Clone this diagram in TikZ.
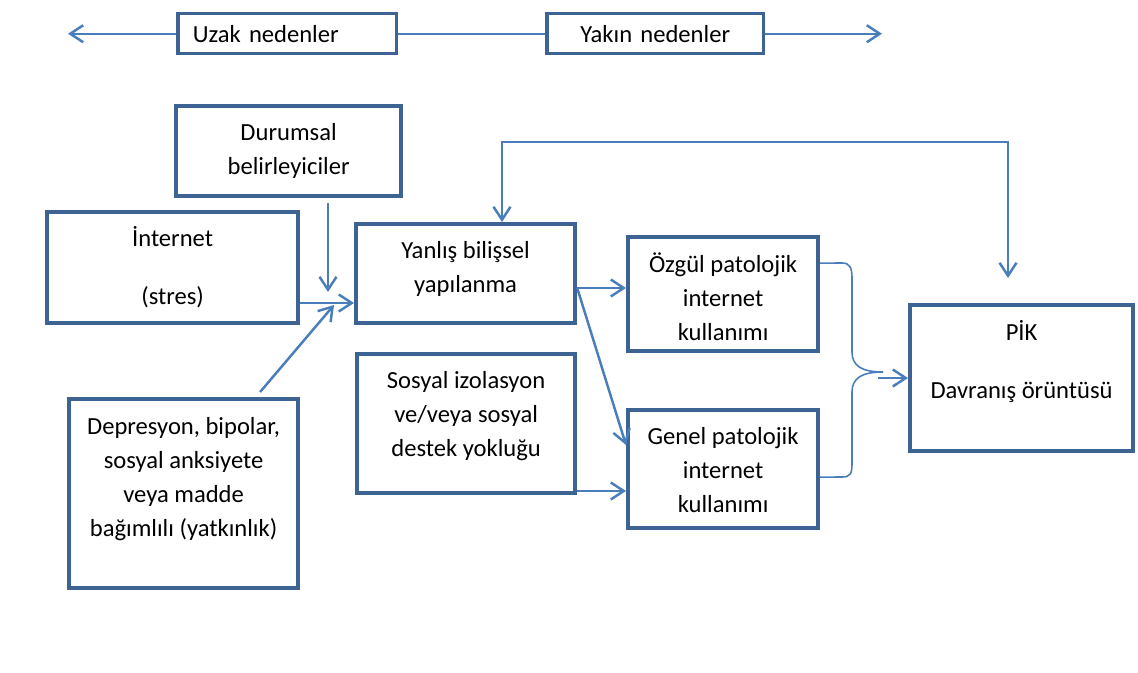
\documentclass[tikz,border=0pt]{standalone}
\usepackage{fontspec}
\setmainfont{Carlito}
\usetikzlibrary{positioning, arrows.meta}
\definecolor{kutumavi}{HTML}{3C6391}
\definecolor{okmavi}{HTML}{4A7EBB}
\tikzset{
	kutu/.style={draw=kutumavi, line width=0.085cm, anchor=north west, inner sep=0pt},
	ustkutu/.style={draw=kutumavi, line width=0.07cm, anchor=north west, minimum height=0.80cm, inner xsep=0.3cm, font=\fontsize{14}{19.4}\selectfont},
	yazi/.style={inner sep=0pt, align=center, font=\fontsize{14}{19.4}\selectfont},
	ok/.style={draw=okmavi, line width=1.4pt, -{Straight Barb[length=0.26cm,width=0.34cm]}},
	ciftok/.style={ok, {Straight Barb[length=0.26cm,width=0.34cm]}-{Straight Barb[length=0.26cm,width=0.34cm]}},
	cizgi/.style={draw=okmavi, line width=1.4pt},
	parantez/.style={draw=okmavi, line width=0.9pt},
}

\begin{document}
\begin{tikzpicture}[x=0.02cm, y=-0.02cm]
		\fill[white] (0,0) rectangle (1138,672);
		\useasboundingbox (0,0) rectangle (1138,672);
		
		% uzak / yakin nedenler
		\node[ustkutu, text width=3.78cm, align=left] (uzak) at (176,12) {Uzak nedenler};
		\node[ustkutu, text width=3.74cm, align=center] (yakin) at (545,12) {Yakın nedenler};
		\coordinate (sol) at (68,0);
		\coordinate (sag) at (882,0);
		\draw[ok] (uzak.west) -- (uzak.west -| sol);
		\draw[cizgi] (uzak) -- (yakin);
		\draw[ok] (yakin.east) -- (yakin.east -| sag);
		
		% kutular
		\node[kutu, minimum width=4.50cm, minimum height=1.80cm] (durumsal) at (174,104) {};
		\node[kutu, minimum width=5.02cm, minimum height=2.22cm] (internet) at (45,210) {};
		\node[kutu, minimum width=4.38cm, minimum height=1.98cm] (yanlis) at (354,222) {};
		\node[kutu, minimum width=4.36cm, minimum height=2.78cm] (sosyal) at (355,352) {};
		\node[kutu, minimum width=4.58cm, minimum height=3.78cm] (depresyon) at (67,397) {};
		\node[kutu, minimum width=3.80cm, minimum height=2.28cm] (ozgul) at (626,235) {};
		\node[kutu, minimum width=3.80cm, minimum height=2.36cm] (genel) at (626,408) {};
		\node[kutu, minimum width=4.46cm, minimum height=2.92cm] (pik) at (908,303) {};
		
		\node[yazi, below=0.38cm of durumsal.north] (durumsal-y) {Durumsal\\belirleyiciler};
		\node[yazi, below=0.32cm of internet.north] (internet-y) {İnternet\\[0.48cm](stres)};
		\node[yazi, below=0.38cm of yanlis.north] (yanlis-y) {Yanlış bilişsel\\yapılanma};
		\node[yazi, below=0.38cm of sosyal.north] (sosyal-y) {Sosyal izolasyon\\ve/veya sosyal\\destek yokluğu};
		\node[yazi, below=0.40cm of depresyon.north] (depresyon-y) {Depresyon, bipolar,\\sosyal anksiyete\\veya madde\\bağımlılı (yatkınlık)};
		\node[yazi, below=0.34cm of ozgul.north] (ozgul-y) {Özgül patolojik\\internet\\kullanımı};
		\node[yazi, below=0.38cm of genel.north] (genel-y) {Genel patolojik\\internet\\kullanımı};
		\node[yazi, below=0.34cm of pik.north] (pik-y) {PİK\\[0.48cm]Davranış örüntüsü};
		
		% oklar
		\coordinate (d1) at (328,292);
		\coordinate (d2) at (334,305);
		\coordinate (k1) at (340,303);
		\coordinate (y1) at (600,288);
		\coordinate (y2) at (600,445);
		\coordinate (y3) at (600,491);
		\draw[ok, shorten <=0.1cm] (durumsal.south -| d1) -- (d1);
		\draw[ok] (internet.east |- k1) -- (yanlis.west |- k1);
		\draw[ok] ([xshift=1.53cm, yshift=0.1cm]depresyon.north) -- (d2);
		\draw[ok] (yanlis.east |- y1) -- (ozgul.west |- y1);
		\draw[ok] (yanlis.east |- y1) -- (genel.west |- y2);
		\draw[ok] (sosyal.east |- y3) -- (genel.west |- y3);
		
		% geri bildirim
		\coordinate (donus) at (502,142);
		\coordinate (pikust) at (1008,278);
		\draw[ciftok] (yanlis.north -| donus) -- (donus) -- (donus -| pikust) -- (pikust);
		
		% parantez
		\coordinate (ucu) at (883,372);
		\coordinate (okbas) at (878,378);
		\draw[parantez] ([yshift=0.62cm]ozgul.east) -- (842,263) .. controls (850,263) and (852,268) .. (852,278) -- (852,352) .. controls (852,366) and (862,372) .. (ucu) .. controls (862,372) and (852,378) .. (852,392) -- (852,464) .. controls (852,474) and (850,477) .. (842,477) -- ([yshift=-0.16cm]genel.east);
		\draw[ok] (okbas) -- (pik.west |- okbas);
		
\end{tikzpicture}
\end{document}
